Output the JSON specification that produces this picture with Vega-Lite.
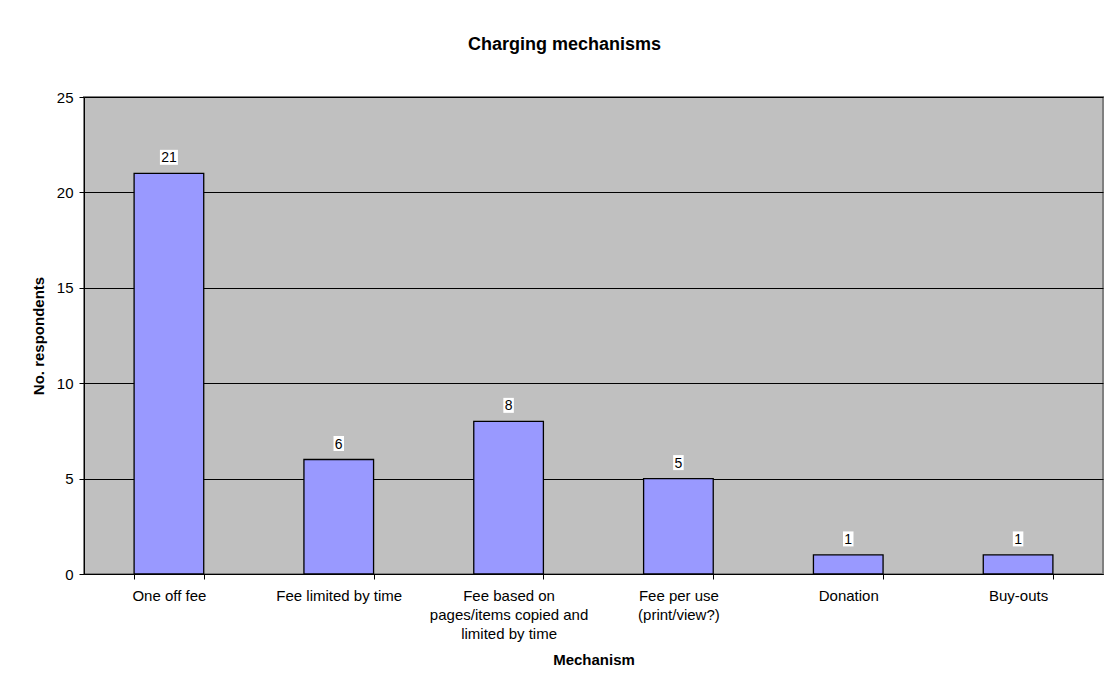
{
  "$schema": "https://vega.github.io/schema/vega-lite/v6.json",
  "width": 1019,
  "height": 477,
  "autosize": {"type": "none"},
  "padding": {"left": 84, "top": 97, "right": 14, "bottom": 115},
  "background": "white",
  "title": {
    "text": "Charging mechanisms",
    "font": "Liberation Sans",
    "fontSize": 18,
    "fontWeight": "bold",
    "color": "black",
    "anchor": "middle",
    "dx": -29,
    "offset": 36
  },
  "config": {
    "font": "Liberation Sans",
    "view": {"fill": "#C0C0C0", "stroke": "#808080", "strokeWidth": 2}
  },
  "data": {
    "values": [
      {"mechanism": "One off fee", "respondents": 21},
      {"mechanism": "Fee limited by time", "respondents": 6},
      {"mechanism": "Fee based on pages/items copied and limited by time", "respondents": 8},
      {"mechanism": "Fee per use (print/view?)", "respondents": 5},
      {"mechanism": "Donation", "respondents": 1},
      {"mechanism": "Buy-outs", "respondents": 1}
    ]
  },
  "encoding": {
    "x": {
      "field": "mechanism",
      "type": "nominal",
      "sort": null,
      "scale": {"paddingInner": 0.59, "paddingOuter": 0.295},
      "axis": {
        "title": "Mechanism",
        "titleFont": "Liberation Sans",
        "titleFontSize": 15,
        "titleFontWeight": "bold",
        "titleColor": "black",
        "titlePadding": 11,
        "labelAngle": 0,
        "labelFont": "Liberation Sans",
        "labelFontSize": 15,
        "labelColor": "black",
        "labelPadding": 9,
        "labelLineHeight": 19,
        "labelLimit": 220,
        "labelExpr": "datum.value == 'Fee based on pages/items copied and limited by time' ? ['Fee based on', 'pages/items copied and', 'limited by time'] : datum.value == 'Fee per use (print/view?)' ? ['Fee per use', '(print/view?)'] : datum.value",
        "tickBand": "extent",
        "tickSize": 5,
        "tickColor": "black",
        "domainColor": "black",
        "domainWidth": 1,
        "grid": false
      }
    },
    "y": {
      "field": "respondents",
      "type": "quantitative",
      "scale": {"domain": [0, 25], "nice": false},
      "axis": {
        "title": "No. respondents",
        "titleFont": "Liberation Sans",
        "titleFontSize": 15,
        "titleFontWeight": "bold",
        "titleColor": "black",
        "titlePadding": 10,
        "values": [0, 5, 10, 15, 20, 25],
        "labelFont": "Liberation Sans",
        "labelFontSize": 15,
        "labelColor": "black",
        "labelPadding": 6,
        "tickSize": 5,
        "tickColor": "black",
        "domainColor": "black",
        "grid": true,
        "gridColor": "black",
        "gridWidth": 1
      }
    }
  },
  "layer": [
    {
      "mark": {"type": "bar", "fill": "#9999FF", "stroke": "black", "strokeWidth": 1.3}
    },
    {
      "mark": {"type": "point", "filled": true, "color": "white", "opacity": 1, "size": 225, "strokeWidth": 0, "yOffset": -16},
      "encoding": {
        "shape": {"condition": {"test": "datum.respondents >= 10", "value": "M-1.2,-1H1.2V1H-1.2Z"}, "value": "M-0.7,-1H0.7V1H-0.7Z"}
      }
    },
    {
      "mark": {"type": "text", "font": "Liberation Sans", "fontSize": 14, "color": "black", "dy": -15, "baseline": "middle"},
      "encoding": {"text": {"field": "respondents", "type": "quantitative"}}
    }
  ]
}
